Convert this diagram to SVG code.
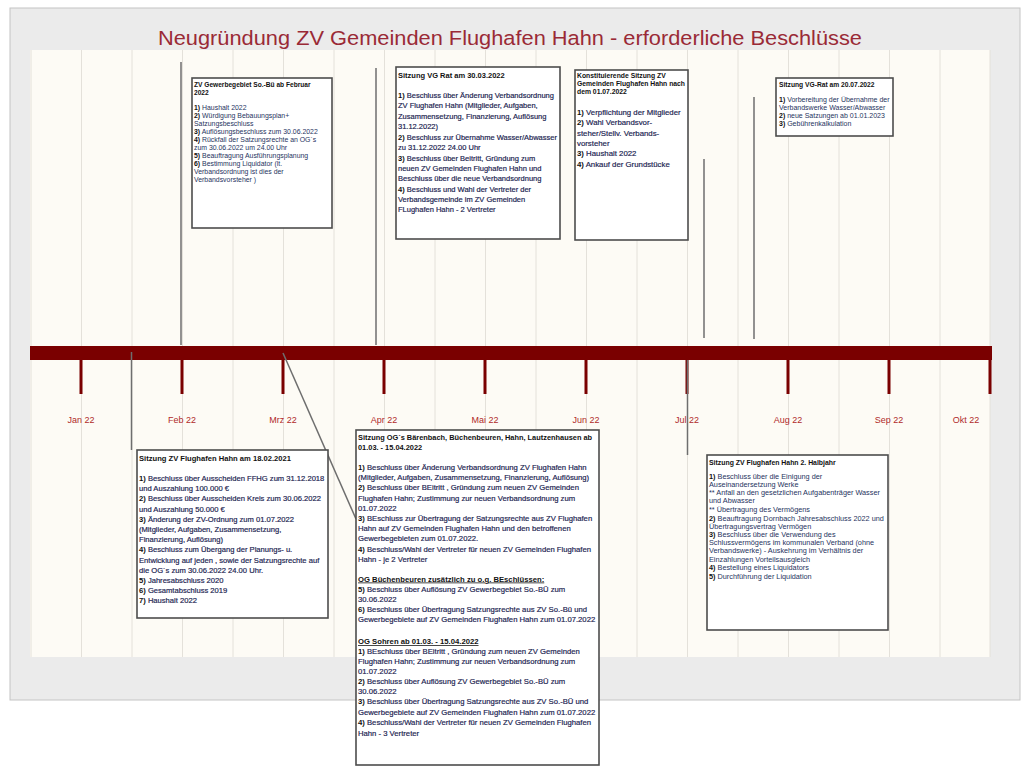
<svg xmlns="http://www.w3.org/2000/svg" width="1025" height="767" viewBox="0 0 1025 767">
<style>
.box{fill:#ffffff;stroke:#4d4d4d;stroke-width:1.6}
.grid{stroke:#e4e1da;stroke-width:1}
.tick{fill:#7a0000}
.mon{font-family:"Liberation Sans",Arial,sans-serif;font-size:9px;fill:#b02a2a;text-anchor:middle}
.con{stroke:#6e6e6e;stroke-width:1.5;fill:none}
.a{font-family:"Liberation Sans",Arial,sans-serif;fill:#26335e}
.b{font-family:"Liberation Sans",Arial,sans-serif;fill:#1a2350;stroke:#1a2350;stroke-width:0.18}
.h{font-weight:bold;fill:#111;stroke:none}
.n{font-weight:bold;fill:#111;stroke:none}
.u{text-decoration:underline}
</style>
<rect x="10" y="8" width="1010" height="692" fill="#ebebeb" stroke="#c4c4c4" stroke-width="1"/>
<rect x="30" y="50" width="960" height="607" fill="#fdfbf5"/>
<g id="grid">
<line class="grid" x1="31" y1="50" x2="31" y2="657"/><line class="grid" x1="81.5" y1="50" x2="81.5" y2="657"/><line class="grid" x1="132" y1="50" x2="132" y2="657"/><line class="grid" x1="182.5" y1="50" x2="182.5" y2="657"/><line class="grid" x1="233" y1="50" x2="233" y2="657"/><line class="grid" x1="283.5" y1="50" x2="283.5" y2="657"/><line class="grid" x1="334" y1="50" x2="334" y2="657"/><line class="grid" x1="384.5" y1="50" x2="384.5" y2="657"/><line class="grid" x1="435" y1="50" x2="435" y2="657"/><line class="grid" x1="485.5" y1="50" x2="485.5" y2="657"/><line class="grid" x1="536" y1="50" x2="536" y2="657"/><line class="grid" x1="586.5" y1="50" x2="586.5" y2="657"/><line class="grid" x1="637" y1="50" x2="637" y2="657"/><line class="grid" x1="687.5" y1="50" x2="687.5" y2="657"/><line class="grid" x1="738" y1="50" x2="738" y2="657"/><line class="grid" x1="788.5" y1="50" x2="788.5" y2="657"/><line class="grid" x1="839" y1="50" x2="839" y2="657"/><line class="grid" x1="889.5" y1="50" x2="889.5" y2="657"/><line class="grid" x1="940" y1="50" x2="940" y2="657"/><line class="grid" x1="990" y1="50" x2="990" y2="657"/>
</g>
<text x="510" y="45" text-anchor="middle" font-family="'Liberation Sans',Arial,sans-serif" font-size="20.5" fill="#9a2a36" textLength="704" lengthAdjust="spacingAndGlyphs">Neugründung ZV Gemeinden Flughafen Hahn - erforderliche Beschlüsse</text>
<g id="timeline">
<rect x="30" y="346" width="962" height="14" fill="#7a0000"/>
<rect class="tick" x="79.5" y="358" width="3" height="36"/><rect class="tick" x="180.5" y="358" width="3" height="36"/><rect class="tick" x="281.5" y="358" width="3" height="36"/><rect class="tick" x="382.5" y="358" width="3" height="36"/><rect class="tick" x="483.5" y="358" width="3" height="36"/><rect class="tick" x="584.5" y="358" width="3" height="36"/><rect class="tick" x="685.5" y="358" width="3" height="36"/><rect class="tick" x="786.5" y="358" width="3" height="36"/><rect class="tick" x="887.5" y="358" width="3" height="36"/><rect class="tick" x="988.5" y="358" width="3" height="36"/>
<text class="mon" x="81" y="423">Jan 22</text><text class="mon" x="182" y="423">Feb 22</text><text class="mon" x="283" y="423">Mrz 22</text><text class="mon" x="384" y="423">Apr 22</text><text class="mon" x="485" y="423">Mai 22</text><text class="mon" x="586" y="423">Jun 22</text><text class="mon" x="687" y="423">Jul 22</text><text class="mon" x="788" y="423">Aug 22</text><text class="mon" x="889" y="423">Sep 22</text><text class="mon" x="966" y="423">Okt 22</text>
</g>
<g id="connectors">
<line class="con" x1="181" y1="62" x2="181" y2="345"/>
<line class="con" x1="376" y1="68" x2="376" y2="345"/>
<line class="con" x1="704" y1="159" x2="704" y2="338"/>
<line class="con" x1="754" y1="97" x2="754" y2="339"/>
<line class="con" x1="131.5" y1="352" x2="131.5" y2="450"/>
<line class="con" x1="283" y1="353" x2="356" y2="519"/>
<line class="con" x1="687.5" y1="360" x2="687.5" y2="455"/>
</g>
<g id="box-gewerbegebiet">
<rect class="box" x="192" y="78" width="140" height="150"/>
<text class="a" style="font-size:6.9px">
<tspan class="h" x="194" y="87" font-size="6.6">ZV Gewerbegebiet So.-Bü ab Februar</tspan>
<tspan class="h" x="194" y="95" font-size="6.6">2022</tspan>
<tspan x="194" y="110"><tspan class="n">1)</tspan>  Haushalt 2022</tspan>
<tspan x="194" y="118"><tspan class="n">2)</tspan> Würdigung Bebauungsplan+</tspan>
<tspan x="194" y="126">Satzungsbeschluss</tspan>
<tspan x="194" y="134"><tspan class="n">3)</tspan> Auflösungsbeschluss zum 30.06.2022</tspan>
<tspan x="194" y="142"><tspan class="n">4)</tspan> Rückfall der Satzungsrechte an OG´s</tspan>
<tspan x="194" y="149.5">zum 30.06.2022 um 24.00 Uhr</tspan>
<tspan x="194" y="157.5"><tspan class="n">5)</tspan> Beauftragung Ausführungsplanung</tspan>
<tspan x="194" y="165.5"><tspan class="n">6)</tspan> Bestimmung Liquidator (lt.</tspan>
<tspan x="194" y="173.5">Verbandsordnung ist dies der</tspan>
<tspan x="194" y="181.5">Verbandsvorsteher )</tspan>
</text>
</g>
<g id="box-vgrat-0303">
<rect class="box" x="396" y="67" width="164" height="172"/>
<text class="b" style="font-size:7.5px">
<tspan class="h" x="398" y="78">Sitzung VG Rat am 30.03.2022</tspan>
<tspan x="398" y="98"><tspan class="n">1)</tspan> Beschluss über Änderung Verbandsordnung</tspan>
<tspan x="398" y="108.3">ZV Flughafen Hahn (Mitglieder, Aufgaben,</tspan>
<tspan x="398" y="118.6">Zusammensetzung, Finanzierung, Auflösung</tspan>
<tspan x="398" y="128.9">31.12.2022)</tspan>
<tspan x="398" y="140"><tspan class="n">2)</tspan> Beschluss zur Übernahme Wasser/Abwasser</tspan>
<tspan x="398" y="150.3">zu 31.12.2022 24.00 Uhr</tspan>
<tspan x="398" y="160.8"><tspan class="n">3)</tspan> Beschluss über Beitritt, Gründung zum</tspan>
<tspan x="398" y="171.1">neuen ZV Gemeinden Flughafen Hahn und</tspan>
<tspan x="398" y="181.4">Beschluss über die neue Verbandsordnung</tspan>
<tspan x="398" y="191.8"><tspan class="n">4)</tspan> Beschluss und Wahl der Vertreter der</tspan>
<tspan x="398" y="202.1">Verbandsgemeinde im ZV Gemeinden</tspan>
<tspan x="398" y="212.4">FLughafen Hahn - 2 Vertreter</tspan>
</text>
</g>
<g id="box-konstituierende">
<rect class="box" x="575" y="70" width="113" height="170"/>
<text class="b" style="font-size:7.8px">
<tspan class="h" x="577" y="78" font-size="6.8">Konstituierende Sitzung ZV</tspan>
<tspan class="h" x="577" y="86" font-size="6.8">Gemeinden Flughafen Hahn nach</tspan>
<tspan class="h" x="577" y="94" font-size="6.8">dem 01.07.2022</tspan>
<tspan x="577" y="115"><tspan class="n">1)</tspan> Verpflichtung der Mitglieder</tspan>
<tspan x="577" y="125.3"><tspan class="n">2)</tspan> Wahl Verbandsvor-</tspan>
<tspan x="577" y="135.6">steher/Stellv. Verbands-</tspan>
<tspan x="577" y="145.9">vorsteher</tspan>
<tspan x="577" y="156.2"><tspan class="n">3)</tspan> Haushalt 2022</tspan>
<tspan x="577" y="166.5"><tspan class="n">4)</tspan> Ankauf der Grundstücke</tspan>
</text>
</g>
<g id="box-vgrat-2007">
<rect class="box" x="776" y="78" width="117" height="58"/>
<text class="a" style="font-size:7.0px">
<tspan class="h" x="779" y="87" font-size="6.7">Sitzung VG-Rat am 20.07.2022</tspan>
<tspan x="779" y="101.5"><tspan class="n">1)</tspan> Vorbereitung der Übernahme der</tspan>
<tspan x="779" y="109.5">Verbandswerke Wasser/Abwasser</tspan>
<tspan x="779" y="117.5"><tspan class="n">2)</tspan> neue Satzungen ab 01.01.2023</tspan>
<tspan x="779" y="126"><tspan class="n">3)</tspan> Gebührenkalkulation</tspan>
</text>
</g>
<g id="box-zv-1802">
<rect class="box" x="137" y="450" width="191" height="168"/>
<text class="b" style="font-size:7.6px">
<tspan class="h" x="139" y="461">Sitzung ZV Flughafen Hahn am 18.02.2021</tspan>
<tspan x="139" y="481"><tspan class="n">1)</tspan> Beschluss über Ausscheiden FFHG zum 31.12.2018</tspan>
<tspan x="139" y="491.2">und Auszahlung 100.000 €</tspan>
<tspan x="139" y="501.4"><tspan class="n">2)</tspan> Beschluss über Ausscheiden Kreis zum 30.06.2022</tspan>
<tspan x="139" y="511.6">und Auszahlung 50.000 €</tspan>
<tspan x="139" y="521.8"><tspan class="n">3)</tspan> Änderung der ZV-Ordnung zum 01.07.2022</tspan>
<tspan x="139" y="532">(Mitglieder, Aufgaben, Zusammensetzung,</tspan>
<tspan x="139" y="542.2">Finanzierung, Auflösung)</tspan>
<tspan x="139" y="552.4"><tspan class="n">4)</tspan> Beschluss zum Übergang der Planungs- u.</tspan>
<tspan x="139" y="562.6">Entwicklung auf jeden , sowie der Satzungsrechte auf</tspan>
<tspan x="139" y="572.8">die OG´s zum 30.06.2022 24.00 Uhr.</tspan>
<tspan x="139" y="583"><tspan class="n">5)</tspan> Jahresabschluss 2020</tspan>
<tspan x="139" y="593.2"><tspan class="n">6)</tspan> Gesamtabschluss 2019</tspan>
<tspan x="139" y="603.4"><tspan class="n">7)</tspan> Haushalt 2022</tspan>
</text>
</g>
<g id="box-og">
<rect class="box" x="356" y="430" width="243" height="335"/>
<text class="b" style="font-size:7.7px">
<tspan class="h" x="358" y="440" font-size="7.4">Sitzung OG´s Bärenbach, Büchenbeuren, Hahn, Lautzenhausen ab</tspan>
<tspan class="h" x="358" y="450" font-size="7.4">01.03. - 15.04.2022</tspan>
<tspan x="358" y="470"><tspan class="n">1)</tspan> Beschluss über Änderung Verbandsordnung ZV Flughafen Hahn</tspan>
<tspan x="358" y="480.2">(Mitglieder, Aufgaben, Zusammensetzung, Finanzierung, Auflösung)</tspan>
<tspan x="358" y="490.4"><tspan class="n">2)</tspan> Beschluss über BEitritt , Gründung zum neuen ZV Gemeinden</tspan>
<tspan x="358" y="500.6">Flughafen Hahn; Zustimmung zur neuen Verbandsordnung zum</tspan>
<tspan x="358" y="510.8">01.07.2022</tspan>
<tspan x="358" y="521"><tspan class="n">3)</tspan> BEschluss zur Übertragung der Satzungsrechte aus ZV Flughafen</tspan>
<tspan x="358" y="531.2">Hahn auf ZV Gemeinden Flughafen Hahn und den betroffenen</tspan>
<tspan x="358" y="541.4">Gewerbegebieten zum 01.07.2022.</tspan>
<tspan x="358" y="551.6"><tspan class="n">4)</tspan> Beschluss/Wahl der Vertreter für neuen ZV Gemeinden Flughafen</tspan>
<tspan x="358" y="561.8">Hahn - je 2 Vertreter</tspan>
<tspan class="h u" x="358" y="581.5">OG Büchenbeuren zusätzlich zu o.g. BEschlüssen:</tspan>
<tspan x="358" y="591.7"><tspan class="n">5)</tspan> Beschluss über Auflösung ZV Gewerbegebiet So.-BÜ zum</tspan>
<tspan x="358" y="601.9">30.06.2022</tspan>
<tspan x="358" y="612"><tspan class="n">6)</tspan> Beschluss über Übertragung Satzungsrechte aus ZV So.-Bü  und</tspan>
<tspan x="358" y="622">Gewerbegebiete auf ZV Gemeinden Flughafen Hahn zum 01.07.2022</tspan>
<tspan class="h u" x="358" y="644">OG Sohren ab 01.03. - 15.04.2022</tspan>
<tspan x="358" y="654"><tspan class="n">1)</tspan> BEschluss über BEitritt , Gründung zum neuen ZV Gemeinden</tspan>
<tspan x="358" y="664">Flughafen Hahn; Zustimmung zur neuen Verbandsordnung zum</tspan>
<tspan x="358" y="674">01.07.2022</tspan>
<tspan x="358" y="684"><tspan class="n">2)</tspan> Beschluss über Auflösung ZV Gewerbegebiet So.-BÜ zum</tspan>
<tspan x="358" y="694">30.06.2022</tspan>
<tspan x="358" y="704"><tspan class="n">3)</tspan> Beschluss über Übertragung Satzungsrechte aus ZV So.-BÜ  und</tspan>
<tspan x="358" y="714.5">Gewerbegebiete auf ZV Gemeinden Flughafen Hahn zum 01.07.2022</tspan>
<tspan x="358" y="725"><tspan class="n">4)</tspan> Beschluss/Wahl der Vertreter für neuen ZV Gemeinden Flughafen</tspan>
<tspan x="358" y="735.5">Hahn -  3 Vertreter</tspan>
</text>
</g>
<g id="box-zv-halbjahr">
<rect class="box" x="707" y="455" width="181" height="175"/>
<text class="a" style="font-size:7.3px">
<tspan class="h" x="709" y="464.5" font-size="6.9">Sitzung ZV Flughafen Hahn 2. Halbjahr</tspan>
<tspan x="709" y="479"><tspan class="n">1)</tspan> Beschluss über die Einigung der</tspan>
<tspan x="709" y="487">Auseinandersetzung Werke</tspan>
<tspan x="709" y="495"> ** Anfall an den gesetzlichen Aufgabenträger Wasser</tspan>
<tspan x="709" y="503">und Abwasser</tspan>
<tspan x="709" y="512">** Übertragung des Vermögens</tspan>
<tspan x="709" y="521"><tspan class="n">2)</tspan> Beauftragung Dornbach Jahresabschluss 2022 und</tspan>
<tspan x="709" y="529">Übertragungsvertrag Vermögen</tspan>
<tspan x="709" y="537"><tspan class="n">3)</tspan> Beschluss über die Verwendung des</tspan>
<tspan x="709" y="545">Schlussvermögens im  kommunalen Verband (ohne</tspan>
<tspan x="709" y="553">Verbandswerke) - Auskehrung im Verhältnis der</tspan>
<tspan x="709" y="561.5">Einzahlungen Vorteilsausgleich</tspan>
<tspan x="709" y="570"><tspan class="n">4)</tspan> Bestellung eines Liquidators</tspan>
<tspan x="709" y="578.5"><tspan class="n">5)</tspan> Durchführung der Liquidation</tspan>
</text>
</g>
</svg>
